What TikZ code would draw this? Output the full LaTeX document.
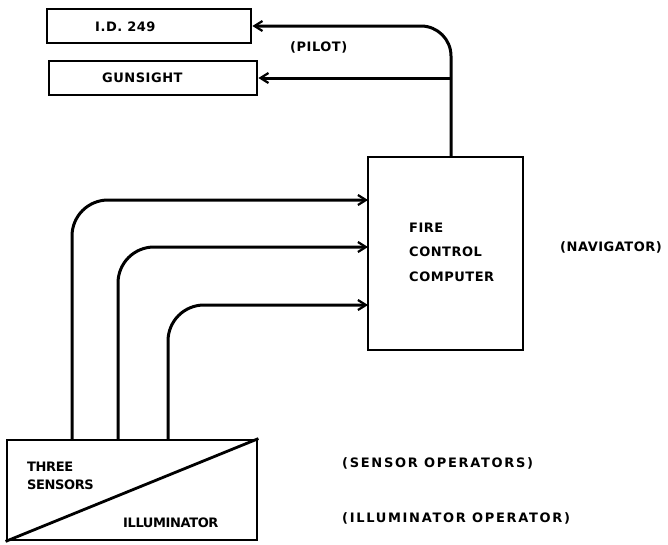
\documentclass[tikz,border=0pt]{standalone}
\usepackage{fontspec}
\newfontfamily\lettering{DejaVu Sans}[LetterSpace=4]
\newfontfamily\widelettering{DejaVu Sans}[LetterSpace=13]
\newfontfamily\narrowlettering{DejaVu Sans}[LetterSpace=-3]
\usetikzlibrary{arrows.meta}

\begin{document}
\begin{tikzpicture}[
    x=1pt, y=-1pt,
    box/.style={draw, line width=2.8pt, minimum width=#1, inner sep=0pt},
    label/.style={font=\lettering\bfseries\fontsize{13}{15}\selectfont, inner sep=0pt, anchor=west},
    widelabel/.style={label, font=\widelettering\bfseries\fontsize{13}{15}\selectfont},
    arrow/.style={line width=3pt, -{Straight Barb[length=8pt, width=10pt, line width=2.2pt]}},
    plain/.style={line width=3pt}
]
    \useasboundingbox (0,0) rectangle (668,544);
    % display units and the computer
    \node[box=204pt, minimum height=34pt] (id) at (149,26) {};
    \node[box=208pt, minimum height=34pt] (gun) at (153,78) {};
    \node[box=155pt, minimum height=193pt] (comp) at (445.5,253.5) {};
    \node[box=250pt, minimum height=100pt] (sens) at (132,490) {};
    \draw[line width=2.8pt] (sens.south west) -- (sens.north east);

    % texts
    \node[label] (idtxt) at (95,27) {I.D. 249};
    \node[label] (guntxt) at (102,78) {GUNSIGHT};
    \node[label] (pilot) at (290,47) {(PILOT)};
    \node[label, align=left, font=\lettering\bfseries\fontsize{13}{24.5}\selectfont] (comptxt) at (409,252) {FIRE\\CONTROL\\COMPUTER};
    \node[label] (nav) at (560,247) {(NAVIGATOR)};
    \node[label, align=left, font=\narrowlettering\bfseries\fontsize{13}{18}\selectfont] (senstxt) at (27,476) {THREE\\SENSORS};
    \node[label, font=\narrowlettering\bfseries\fontsize{13}{15}\selectfont] (illtxt) at (123,523) {ILLUMINATOR};
    \node[widelabel] (sensop) at (342,463) {(SENSOR OPERATORS)};
    \node[widelabel] (illop) at (342,518) {(ILLUMINATOR OPERATOR)};

    % connectors
    \coordinate (c0) at (451,157);
    \draw[arrow, rounded corners=30pt] (c0) |- (id.east);
    \draw[arrow] (c0 |- gun.east) -- (gun.east);
    \foreach \sx/\ty [count=\i] in {72/200, 118/247, 168/305} {
        \coordinate (s\i) at (\sx,440);
        \coordinate (t\i) at (368,\ty);
        \draw[arrow, rounded corners=36pt] (s\i) |- (t\i);
    }
\end{tikzpicture}
\end{document}
